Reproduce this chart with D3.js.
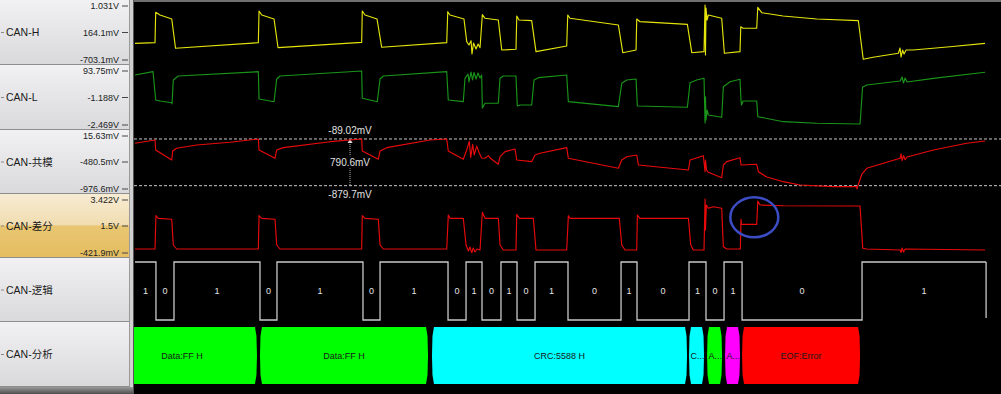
<!DOCTYPE html>
<html>
<head>
<meta charset="utf-8">
<script src="https://cdn.jsdelivr.net/npm/d3@7"></script>
<style>
  body { margin: 0; background: #000; overflow: hidden; }
  svg { display: block; font-family: "Liberation Sans", Arial, "Noto Sans CJK SC", sans-serif; }
</style>
</head>
<body>
<svg id="chart" width="1001" height="394"></svg>
<script>
// time in µs, voltages in mV
const timeDomain = [0, 100.4];

const channelNames = ["CAN-H", "CAN-L", "CAN-共模", "CAN-差分", "CAN-逻辑", "CAN-分析"];

const canHTicks = ["1.031V", "164.1mV", "-703.1mV"];
const canLTicks = ["93.75mV", "-1.188V", "-2.469V"];
const commonTicks = ["15.63mV", "-480.5mV", "-976.6mV"];
const diffTicks = ["3.422V", "1.5V", "-421.9mV"];

const canHRange = [-703.1, 1031];
const canLRange = [-2469, 93.75];
const commonRange = [-976.6, 15.63];
const diffRange = [-421.9, 3422];

const canH = [
  [0,-167],[2.32,-147],[2.40,829],[2.90,742],[4.26,614],[4.70,-327],
  [14.30,-147],[14.38,870],[14.69,742],[16.12,614],[16.58,-308],
  [26.28,-135],[26.35,870],[26.67,742],[28.06,614],[28.60,-295],
  [36.14,-147],[36.26,848],[36.52,742],[38.14,614],[38.46,-115],
  [38.72,-221],[38.96,-83],[39.07,-510],[39.25,-157],[39.54,-350],[39.77,-189],[40.0,-308],
  [40.27,752],[40.58,636],[42.12,581],[42.52,-382],
  [44.17,-359],[44.26,710],[44.52,581],[45.99,559],[46.49,-436],
  [50.05,-253],[50.17,742],[50.43,636],[56.04,421],[56.55,-469],
  [58.09,-382],[58.17,614],[58.55,527],[64.04,443],[64.55,-469],
  [65.97,-436],[66.09,1063],[66.14,-542],[66.20,967],[66.32,581],[66.47,742],[68.02,636],[68.33,-488],
  [70.14,-436],[70.23,366],[70.49,315],[72.08,315],[72.20,989],[72.66,816],[75.13,710],[79.04,614],[83.86,559],
  [84.43,-680],[85.57,-616],[88.50,-488],[88.70,-318],[88.81,-607],[88.99,-382],[89.16,-510],[89.39,-382],
  [90.20,-382],[94.49,-276],[98.55,-167]
];

const canL = [
  [0,-96],[2.09,61],[2.40,-1282],[2.90,-1330],[4.26,-1411],[4.29,-1472],[4.44,-333],[5.02,-143],
  [14.30,61],[14.38,-1235],[16.12,-1363],[16.43,-286],[16.81,-143],
  [26.28,94],[26.35,-1202],[28.09,-1363],[28.41,-286],[28.79,-143],
  [36.14,61],[36.32,-1282],[38.06,-1363],[38.26,-253],
  [38.61,-48],[38.72,-428],[38.96,46],[39.13,-333],[39.30,23],[39.54,-286],[39.77,-1],[40.0,-238],[40.19,-96],
  [40.27,-1662],[40.58,-1439],[42.12,-1439],[42.32,-253],[42.70,-143],
  [44.17,-143],[44.32,-1567],[44.64,-1520],[45.99,-1520],[46.26,-333],[46.76,-224],
  [50.05,-96],[50.24,-1363],[56.04,-1600],[56.43,-490],[57.01,-333],
  [58.09,-286],[58.24,-1567],[64.04,-1629],[64.35,-461],[65.12,-333],
  [65.97,-253],[66.09,-2374],[66.14,-1126],[66.20,-2232],[66.32,-1757],[66.47,-1994],[68.02,-2103],[68.21,-651],[68.99,-414],
  [70.14,-300],[70.26,-1330],[70.32,-1520],[70.49,-1330],[72.08,-1330],[72.20,-2075],[75.17,-2312],[79.04,-2388],[84.06,-2422],
  [84.35,-680],[84.83,-571],[88.70,-381],[88.93,-191],[89.10,-476],[89.28,-238],[89.51,-428],[92.56,-253],[98.55,32]
];

const common = [
  [0,-162],[2.32,-106],[2.40,-275],[4.26,-445],[4.37,-292],[4.83,-246],[7.15,-191],[11.01,-145],
  [14.30,-89],[14.38,-275],[16.23,-416],[16.43,-275],[17.19,-236],[22.61,-135],
  [26.28,-89],[26.35,-292],[28.21,-433],[28.41,-292],[29.18,-236],[34.20,-106],
  [36.14,-89],[36.32,-292],[38.06,-433],
  [38.46,-275],[38.76,-130],[38.92,-400],[39.15,-180],[39.33,-360],[39.62,-210],[39.92,-330],[40.19,-411],[40.58,-416],[40.97,-370],[41.16,-411],
  [42.12,-517],[42.32,-389],[42.90,-304],[44.06,-258],
  [44.26,-445],[45.99,-473],[46.38,-360],[46.96,-331],[50.05,-236],
  [50.24,-416],[56.04,-585],[56.43,-445],[57.01,-389],[58.17,-360],
  [58.36,-529],[64.16,-614],[64.35,-445],[65.89,-372],
  [66.09,-643],[66.14,-445],[66.26,-614],[66.47,-653],[68.02,-744],[68.21,-529],[68.60,-473],[70.14,-406],
  [70.26,-529],[72.08,-517],[72.27,-643],[73.24,-732],[75.17,-812],[77.10,-868],[80.96,-897],[83.67,-897],[83.71,-936],[83.77,-897],
  [84.26,-687],[84.83,-585],[88.70,-416],[88.81,-340],[88.93,-455],[89.10,-370],[89.28,-440],[89.51,-394],[92.56,-275],[96.43,-162],[98.55,-123]
];

const diff = [
  [0,-59],[2.32,-59],[2.43,2356],[2.70,2167],[4.26,2095],[4.44,231],[4.83,-59],
  [14.30,-59],[14.38,2356],[14.69,2167],[16.23,2095],[16.43,231],[16.81,-59],
  [26.28,-59],[26.35,2356],[26.67,2167],[28.21,2095],[28.41,231],[28.79,-59],
  [36.14,-59],[36.32,2407],[36.52,2167],[38.06,2167],[38.38,231],
  [38.65,-205],[38.84,86],[39.04,-328],[39.22,13],[39.42,-277],[39.65,-59],[40.0,-132],
  [40.27,2602],[40.58,2167],[42.12,2167],[42.32,231],[42.70,-132],
  [44.17,-132],[44.26,2457],[44.56,2167],[46.18,2167],[46.49,-132],
  [50.05,-132],[50.24,2356],[50.43,2167],[56.15,2167],[56.43,231],[56.81,-132],
  [58.17,-132],[58.24,2407],[58.55,2167],[64.16,2167],[64.43,231],[64.73,-132],
  [65.97,-132],[66.09,3567],[66.14,1319],[66.24,3132],[66.47,2893],[67.05,3009],[68.02,2893],[68.21,107],[68.60,-59],
  [70.18,-59],[70.26,2095],[70.32,1732],[72.08,1732],[72.20,3422],[72.46,3132],[75.17,3081],[84.06,3059],
  [84.37,-9],[84.83,-59],[88.70,-132],[88.81,-313],[88.93,13],[89.10,-277],[89.28,-59],[98.55,-132]
];

// logic channel: bit edges (µs), the level of each segment
const bitEdges = [2.43, 4.52, 14.49, 16.46, 26.43, 28.41, 36.29, 38.38, 40.23, 42.43, 44.29, 46.38,
                  50.20, 56.35, 58.20, 64.23, 66.20, 68.29, 70.38, 84.29, 98.67];
const bitLevels = [1,0,1,0,1,0,1,0,1,0,1,0,1,0,1,0,1,0,1,0,1];

// decoder frames
const frameLabels = ["Data:FF H", "Data:FF H", "CRC:5588 H", "C...", "A...", "A...", "EOF:Error"];
const frameStart = [-3.25, 14.49, 34.43, 64.23, 66.32, 68.41, 70.38];
const frameEnd = [14.14, 33.97, 64.0, 65.97, 68.06, 70.14, 84.06];
const frameColors = ["#00ff00", "#00ff00", "#00ffff", "#00ffff", "#00ff00", "#ff00ff", "#ff0000"];
const frameTruncated = [false, false, false, true, true, true, false];

// cursors on the common-mode channel
const cursorLevels = [-89.02, -879.7];
const cursorLabels = ["-89.02mV", "-879.7mV"];
const cursorDelta = "790.6mV";
const cursorTime = 24.93;

// marked glitch
const markTime = 71.8;
const markValue = 2240;

const svg = d3.select("#chart");
const W = 1001, H = 394;
const plotLeft = 134;
const bandTops = [0, 65, 130, 194, 258, 322, 387];

const x = d3.scaleLinear().domain(timeDomain).range([135, 1001]);
const yH = d3.scaleLinear().domain(canHRange).range([60, 6]);
const yL = d3.scaleLinear().domain(canLRange).range([125, 71]);
const yC = d3.scaleLinear().domain(commonRange).range([191.4, 132.8]);
const yD = d3.scaleLinear().domain(diffRange).range([254, 201]);

const defs = svg.append("defs");
function vGrad(id, stops) {
  const g = defs.append("linearGradient").attr("id", id)
    .attr("x1", 0).attr("y1", 0).attr("x2", 0).attr("y2", 1);
  stops.forEach(s => g.append("stop").attr("offset", s[0]).attr("stop-color", s[1]));
}
vGrad("panel", [["0%", "#f1f1f3"], ["100%", "#d9d9dc"]]);
vGrad("panelSel", [["0%", "#f7ecd3"], ["48%", "#f0dcb0"], ["50%", "#e9c672"], ["100%", "#e5bd5f"]]);
vGrad("bottomStrip", [["0%", "#9a9a9a"], ["100%", "#4e4e4e"]]);

defs.append("clipPath").attr("id", "plotClip")
  .append("rect").attr("x", plotLeft).attr("y", 2).attr("width", W - plotLeft).attr("height", H - 2);

// background
svg.append("rect").attr("width", W).attr("height", H).attr("fill", "#000");
svg.append("rect").attr("x", plotLeft).attr("y", 0).attr("width", W - plotLeft).attr("height", 2).attr("fill", "#707070");

// left panels
const panels = svg.append("g").attr("id", "panels");
channelNames.forEach((name, i) => {
  const top = bandTops[i], bot = bandTops[i + 1];
  const mid = (top + bot) / 2;
  panels.append("rect").attr("x", 0).attr("y", top).attr("width", 129).attr("height", bot - top)
    .attr("fill", i === 3 ? "url(#panelSel)" : "url(#panel)");
  panels.append("line").attr("x1", 0).attr("x2", 129).attr("y1", bot - 0.5).attr("y2", bot - 0.5)
    .attr("stroke", "#8e8e8e");
  panels.append("line").attr("x1", 1).attr("x2", 4).attr("y1", mid).attr("y2", mid).attr("stroke", "#888");
  panels.append("text").attr("x", 6).attr("y", mid).attr("dy", "0.35em")
    .attr("font-size", "10.5px").attr("fill", "#1a1a1a").text(name);
});
panels.append("rect").attr("x", 0).attr("y", 387).attr("width", 134).attr("height", 7).attr("fill", "url(#bottomStrip)");
panels.append("rect").attr("x", 129).attr("y", 0).attr("width", 5).attr("height", 387).attr("fill", "#d0d0d0");
panels.append("line").attr("x1", 129.5).attr("x2", 129.5).attr("y1", 0).attr("y2", 387).attr("stroke", "#9a9a9a");
panels.append("line").attr("x1", 133.5).attr("x2", 133.5).attr("y1", 0).attr("y2", 394).attr("stroke", "#555");

// tick labels for analog channels
[canHTicks, canLTicks, commonTicks, diffTicks].forEach((ticks, i) => {
  const top = bandTops[i], bot = bandTops[i + 1];
  const ys = [top + 6, (top + bot) / 2, bot - 5];
  ticks.forEach((t, j) => {
    panels.append("text").attr("x", 119).attr("y", ys[j]).attr("dy", "0.35em")
      .attr("text-anchor", "end").attr("font-size", "9px").attr("fill", "#222").text(t);
    panels.append("line").attr("x1", 122).attr("x2", 128).attr("y1", ys[j]).attr("y2", ys[j])
      .attr("stroke", "#444");
  });
});

// plot
const plot = svg.append("g").attr("clip-path", "url(#plotClip)");

// cursors
const cur = plot.append("g").attr("id", "cursors");
cursorLevels.forEach(v => {
  cur.append("line").attr("x1", plotLeft).attr("x2", W).attr("y1", yC(v)).attr("y2", yC(v))
    .attr("stroke", "#c8c8c8").attr("stroke-dasharray", "3,2");
});
const cx = x(cursorTime);
cur.append("line").attr("x1", cx).attr("x2", cx).attr("y1", yC(cursorLevels[0]) + 3).attr("y2", yC(cursorLevels[1]))
  .attr("stroke", "#bbb").attr("stroke-dasharray", "1,1");
cur.append("path")
  .attr("d", `M${cx},${yC(cursorLevels[0])} l-2.5,4 l5,0 z`).attr("fill", "#ddd");
const midC = (yC(cursorLevels[0]) + yC(cursorLevels[1])) / 2;
cur.append("rect").attr("x", cx - 22).attr("y", midC - 6).attr("width", 44).attr("height", 12).attr("fill", "#000");
cur.append("text").attr("x", cx).attr("y", midC).attr("dy", "0.35em").attr("text-anchor", "middle")
  .attr("font-size", "10px").attr("fill", "#e0e0e0").text(cursorDelta);
cur.append("text").attr("x", cx).attr("y", yC(cursorLevels[0]) - 8).attr("dy", "0.35em").attr("text-anchor", "middle")
  .attr("font-size", "10px").attr("fill", "#e0e0e0").text(cursorLabels[0]);
cur.append("text").attr("x", cx).attr("y", yC(cursorLevels[1]) + 9).attr("dy", "0.35em").attr("text-anchor", "middle")
  .attr("font-size", "10px").attr("fill", "#e0e0e0").text(cursorLabels[1]);

// analog traces
function trace(data, y, color) {
  plot.append("path").datum(data)
    .attr("fill", "none").attr("stroke", color).attr("stroke-width", 1.15).attr("stroke-linejoin", "round")
    .attr("d", d3.line().x(d => x(d[0])).y(d => y(d[1])));
}
trace(canH, yH, "#e4e40c");
trace(canL, yL, "#199419");
trace(common, yC, "#e80a0a");
trace(diff, yD, "#e80a0a");

// glitch mark
plot.append("ellipse").attr("cx", x(markTime)).attr("cy", yD(markValue)).attr("rx", 24).attr("ry", 20)
  .attr("fill", "none").attr("stroke", "#3b4cc4").attr("stroke-width", 2.5);

// logic channel
const yLogic = d3.scaleLinear().domain([0, 1]).range([320, 262]);
const logicPts = [[timeDomain[0], bitLevels[0]]];
bitEdges.forEach((e, i) => {
  logicPts.push([e, bitLevels[i]]);
  if (i + 1 < bitLevels.length) logicPts.push([e, bitLevels[i + 1]]);
});
const lastEdge = bitEdges[bitEdges.length - 1];
plot.append("path").datum(logicPts)
  .attr("fill", "none").attr("stroke", "#c8c8c8").attr("stroke-width", 1.3)
  .attr("d", d3.line().x(d => x(d[0])).y(d => yLogic(d[1])));
plot.append("line").attr("x1", x(lastEdge)).attr("x2", x(lastEdge))
  .attr("y1", yLogic(1)).attr("y2", yLogic(0) - 2).attr("stroke", "#c8c8c8").attr("stroke-width", 1.3);
bitLevels.forEach((b, i) => {
  const s = i === 0 ? timeDomain[0] : bitEdges[i - 1];
  const e = bitEdges[i];
  plot.append("text").attr("x", x((s + e) / 2)).attr("y", 291).attr("dy", "0.35em")
    .attr("text-anchor", "middle").attr("font-size", "9px").attr("fill", "#e4e4e4").text(b);
});

// decoder frames
const fTop = 327, fBot = 384, fMid = (fTop + fBot) / 2;
frameLabels.forEach((lbl, i) => {
  const x0 = x(frameStart[i]), x1 = x(frameEnd[i]);
  const p = `M${x0 + 2},${fTop} L${x1 - 2},${fTop} L${x1 - 0.5},${fTop + 9} L${x1},${fMid} L${x1 - 0.5},${fBot - 9} ` +
    `L${x1 - 2},${fBot} L${x0 + 2},${fBot} L${x0 + 0.5},${fBot - 9} L${x0},${fMid} L${x0 + 0.5},${fTop + 9} Z`;
  plot.append("path").attr("d", p).attr("fill", frameColors[i]);
  plot.append("text")
    .attr("x", frameTruncated[i] ? x0 + 1.5 : (x0 + x1) / 2).attr("y", fMid).attr("dy", "0.35em")
    .attr("text-anchor", frameTruncated[i] ? "start" : "middle")
    .attr("font-size", "9px").attr("fill", "#1a1a1a").text(lbl);
});
</script>
</body>
</html>
